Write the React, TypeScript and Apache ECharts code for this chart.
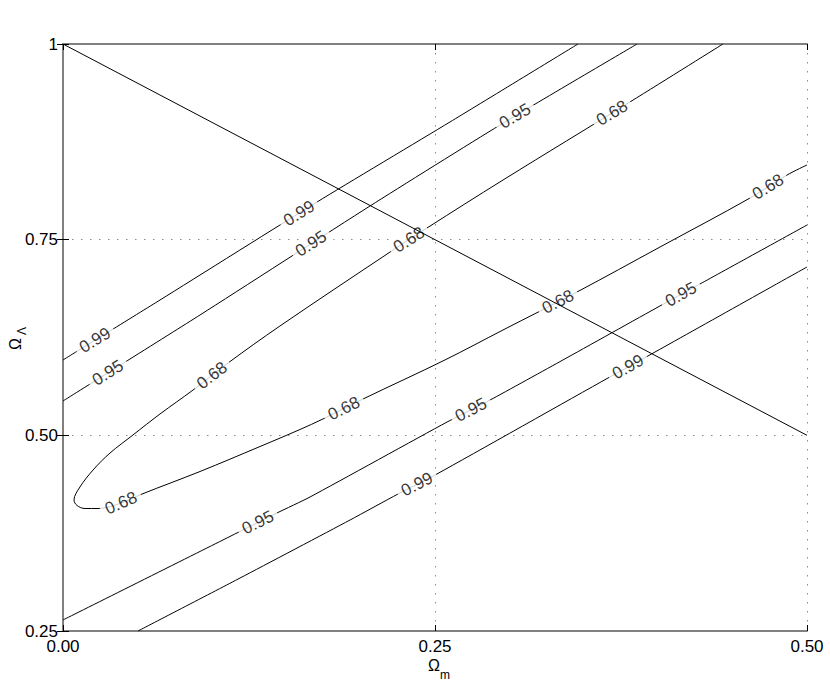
import React, { useEffect, useRef } from "react";
import * as echarts from "echarts";

// Axis ticks
const xTickValues = [0, 0.25, 0.5];
const yTickValues = [0.25, 0.5, 0.75, 1];

// Flat-universe line  Ωm + ΩΛ = 1
const flatLine: [number, number][] = [
  [0, 1],
  [0.5, 0.5],
];

// Upper contours (Ωm, ΩΛ)
const upper099: [number, number][] = [
  [0, 0.5963], [0.0652, 0.6729], [0.1707, 0.7981], [0.2601, 0.9004], [0.3461, 1.0],
];
const upper095: [number, number][] = [
  [0, 0.5439], [0.0921, 0.6538], [0.2063, 0.793], [0.2937, 0.8965], [0.3858, 1.0],
];
// 0.68 closed region: upper branch (top edge to tip) and lower branch (tip to right edge)
const loop068Upper: [number, number][] = [
  [0.4435, 1.0], [0.381, 0.9259], [0.2957, 0.8262], [0.2446, 0.7649], [0.2198, 0.7342],
  [0.1458, 0.6397], [0.1109, 0.5924], [0.0874, 0.5579], [0.0652, 0.5273], [0.047, 0.5004],
  [0.0316, 0.4774], [0.0202, 0.4557], [0.0114, 0.434], [0.0074, 0.4174],
];
const loop068Lower: [number, number][] = [
  [0.0074, 0.4174], [0.0094, 0.4104], [0.0148, 0.4065], [0.0235, 0.4065], [0.0383, 0.4129],
  [0.0531, 0.425], [0.0921, 0.4538], [0.1324, 0.4857], [0.1593, 0.5075], [0.1747, 0.5209],
  [0.2016, 0.5464], [0.2567, 0.5963], [0.2957, 0.6346], [0.3454, 0.6831], [0.4012, 0.7406],
  [0.4617, 0.8032], [0.4866, 0.8326], [0.5, 0.8454],
];
// Lower contours
const lower095: [number, number][] = [
  [0, 0.2641], [0.1075, 0.3663], [0.1438, 0.4008], [0.166, 0.4212], [0.2581, 0.517],
  [0.287, 0.5451], [0.336, 0.5963], [0.4012, 0.6653], [0.4281, 0.6934], [0.5, 0.7687],
];
const lower099: [number, number][] = [
  [0.0504, 0.25], [0.119, 0.3177], [0.1929, 0.3918], [0.2251, 0.425], [0.2513, 0.4506],
  [0.3663, 0.5733], [0.3931, 0.6014], [0.5, 0.7151],
];

// Inline contour labels: which branch, its level, and the Ωm where the label sits
const labelBranches = [
  "upper099", "upper099",
  "upper095", "upper095", "upper095",
  "loop068Upper", "loop068Upper", "loop068Upper",
  "loop068Lower", "loop068Lower", "loop068Lower", "loop068Lower",
  "lower095", "lower095", "lower095",
  "lower099", "lower099",
];
const labelTexts = [
  "0.99", "0.99",
  "0.95", "0.95", "0.95",
  "0.68", "0.68", "0.68",
  "0.68", "0.68", "0.68", "0.68",
  "0.95", "0.95", "0.95",
  "0.99", "0.99",
];
const labelXs = [
  0.0215, 0.1586,
  0.0302, 0.1667, 0.3038,
  0.369, 0.2325, 0.1001,
  0.039, 0.1888, 0.3327, 0.4738,
  0.131, 0.2742, 0.4153,
  0.2379, 0.3797,
];

const branches: Record<string, [number, number][]> = {
  upper099,
  upper095,
  loop068Upper,
  loop068Lower,
  lower095,
  lower099,
};

const FONT = "'Liberation Sans', Arial, Helvetica, sans-serif";

const fmtY = (v: number) => (v === 1 ? "1" : v.toFixed(2));
const fmtX = (v: number) => v.toFixed(2);

export default function App() {
  const ref = useRef<HTMLDivElement>(null);

  useEffect(() => {
    if (!ref.current) return;
    const chart = echarts.init(ref.current, null, { renderer: "svg" });

    const frameColor = "#808080";
    const gridStyle = { color: "#8c8c8c", width: 1, type: [1.5, 7.5] as any };

    const xMin = xTickValues[0];
    const xMax = xTickValues[xTickValues.length - 1];
    const yMin = yTickValues[0];
    const yMax = yTickValues[yTickValues.length - 1];

    const lineSeries = (id: string, data: [number, number][], smooth: number | boolean, z = 2) => ({
      id,
      type: "line",
      data,
      showSymbol: false,
      symbol: "none",
      smooth,
      xAxisIndex: 0,
      yAxisIndex: 0,
      lineStyle: { color: "#000", width: 1 },
      z,
      silent: true,
    });

    const textStyle = (text: string, size: number) => ({
      text,
      fill: "#000",
      font: `${size}px ${FONT}`,
      textAlign: "center",
      textVerticalAlign: "middle",
      align: "center",
      verticalAlign: "middle",
    });

    const option: any = {
      animation: false,
      backgroundColor: "#fff",
      grid: { left: 63, right: 23, top: 44, bottom: 51, containLabel: false },
      xAxis: [
        {
          type: "value",
          min: xMin,
          max: xMax,
          interval: 0.25,
          position: "bottom",
          axisLine: { show: true, lineStyle: { color: frameColor, width: 2 } },
          axisTick: { show: true, inside: true, length: 6, lineStyle: { color: "#000", width: 1 } },
          axisLabel: {
            show: true,
            formatter: fmtX,
            color: "#000",
            fontSize: 17,
            fontFamily: FONT,
            margin: 7,
            showMinLabel: true,
            showMaxLabel: true,
          },
          splitLine: { show: true, lineStyle: gridStyle },
        },
        {
          type: "value",
          min: xMin,
          max: xMax,
          interval: 0.25,
          position: "top",
          axisLine: { show: true, lineStyle: { color: frameColor, width: 2 } },
          axisTick: { show: true, inside: true, length: 6, lineStyle: { color: "#000", width: 1 } },
          axisLabel: { show: false },
          splitLine: { show: false },
        },
      ],
      yAxis: [
        {
          type: "value",
          min: yMin,
          max: yMax,
          interval: 0.25,
          position: "left",
          axisLine: { show: true, lineStyle: { color: frameColor, width: 2 } },
          axisTick: { show: true, inside: true, length: 6, lineStyle: { color: "#000", width: 1 } },
          axisLabel: {
            show: true,
            formatter: fmtY,
            color: "#000",
            fontSize: 17,
            fontFamily: FONT,
            margin: 5,
            showMinLabel: true,
            showMaxLabel: true,
          },
          splitLine: { show: true, lineStyle: gridStyle },
        },
        {
          type: "value",
          min: yMin,
          max: yMax,
          interval: 0.25,
          position: "right",
          axisLine: { show: true, lineStyle: { color: frameColor, width: 2 } },
          axisTick: { show: true, inside: true, length: 6, lineStyle: { color: "#000", width: 1 } },
          axisLabel: { show: false },
          splitLine: { show: false },
        },
      ],
      graphic: [
        { type: "text", x: 434, y: 665, style: textStyle("Ω", 16) },
        { type: "text", x: 445, y: 675, style: textStyle("m", 12) },
        { type: "text", x: 15, y: 344, rotation: Math.PI / 2, style: textStyle("Ω", 16) },
        { type: "text", x: 22, y: 331, rotation: Math.PI / 2, style: textStyle("Λ", 12) },
      ],
      series: [
        lineSeries("upper099", upper099, 0.2),
        lineSeries("upper095", upper095, 0.2),
        lineSeries("loop068", [...loop068Upper, ...loop068Lower.slice(1)], 0.35),
        lineSeries("lower095", lower095, 0.2),
        lineSeries("lower099", lower099, 0.2),
        {
          id: "labels",
          type: "scatter",
          xAxisIndex: 0,
          yAxisIndex: 0,
          symbolSize: 1,
          itemStyle: { color: "rgba(0,0,0,0)" },
          data: [],
          z: 3,
          silent: true,
        },
        lineSeries("flat", flatLine, false, 4),
      ],
    };

    chart.setOption(option);

    // Place labels on their contours, rotated along the local direction (pixel space)
    const labelData = labelXs.map((lx, i) => {
      const pts = branches[labelBranches[i]];
      let k = 0;
      for (let j = 0; j < pts.length - 1; j++) {
        const a = Math.min(pts[j][0], pts[j + 1][0]);
        const b = Math.max(pts[j][0], pts[j + 1][0]);
        if (lx >= a && lx <= b) {
          k = j;
          break;
        }
      }
      const p0 = pts[k];
      const p1 = pts[k + 1];
      const t = p1[0] === p0[0] ? 0 : (lx - p0[0]) / (p1[0] - p0[0]);
      const ly = p0[1] + t * (p1[1] - p0[1]);
      const q0 = chart.convertToPixel({ gridIndex: 0 } as any, p0) as number[];
      const q1 = chart.convertToPixel({ gridIndex: 0 } as any, p1) as number[];
      let ang = (Math.atan2(-(q1[1] - q0[1]), q1[0] - q0[0]) * 180) / Math.PI;
      if (ang > 90) ang -= 180;
      if (ang < -90) ang += 180;
      return {
        name: labelTexts[i],
        value: [lx, ly],
        label: { rotate: ang },
      };
    });

    chart.setOption({
      series: [
        {
          id: "labels",
          data: labelData,
          label: {
            show: true,
            position: "inside",
            formatter: "{b}",
            color: "#000",
            fontSize: 17,
            fontFamily: FONT,
            backgroundColor: "#fff",
            padding: [0, 5],
          },
          labelLayout: { hideOverlap: false },
        },
      ],
    });

    return () => {
      chart.dispose();
    };
  }, []);

  return (
    <div
      ref={ref}
      style={{ position: "fixed", left: 0, top: 0, width: 830, height: 682, background: "#fff" }}
    />
  );
}
